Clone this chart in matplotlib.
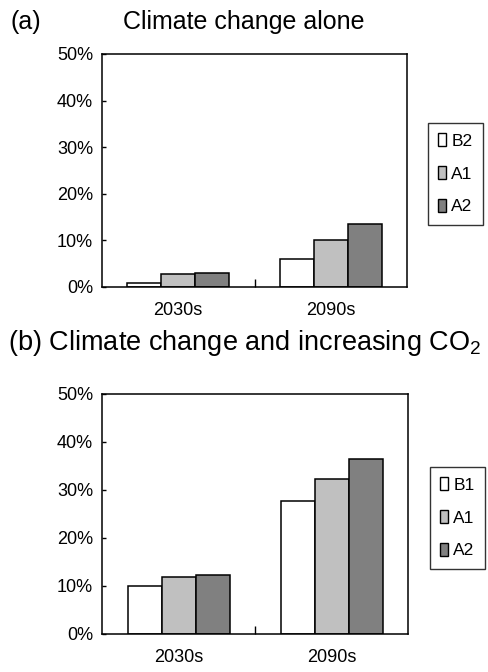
import matplotlib
matplotlib.use("Agg")
import matplotlib.pyplot as plt
from matplotlib.patches import Patch
from matplotlib.ticker import FixedLocator, PercentFormatter
import numpy as np

plt.rcParams['font.family'] = ['Liberation Sans', 'DejaVu Sans']
plt.rcParams['mathtext.fontset'] = 'custom'
plt.rcParams['mathtext.rm'] = 'Liberation Sans'

periods = ["2030s", "2090s"]

# Panel (a): climate change alone
scen_a = ["B2", "A1", "A2"]
vals_a = {"B2": [0.8, 6.1], "A1": [2.8, 10.0], "A2": [3.1, 13.5]}

# Panel (b): climate change and increasing CO2
scen_b = ["B1", "A1", "A2"]
vals_b = {"B1": [10.0, 27.7], "A1": [11.9, 32.3], "A2": [12.2, 36.5]}

fills = ["#ffffff", "#c0c0c0", "#808080"]

W, H = 488, 672
fig = plt.figure(figsize=(W / 100, H / 100), dpi=100)


def px_axes(l, t, r, b):
    return fig.add_axes([l / W, 1 - b / H, (r - l) / W, (b - t) / H])


def draw_panel(ax, scen, vals, leg_left, leg_top):
    x = np.arange(len(periods))
    w = 2 / 9
    for i, s in enumerate(scen):
        ax.bar(x + (i - 1) * w, vals[s], width=w, color=fills[i],
               edgecolor="black", linewidth=1.1, zorder=2)
    ax.set_xlim(-0.5, 1.5)
    ax.set_ylim(0, 50)
    ax.yaxis.set_major_locator(FixedLocator([0, 10, 20, 30, 40, 50]))
    ax.yaxis.set_major_formatter(PercentFormatter(decimals=0))
    ax.set_xticks(x)
    ax.set_xticklabels(periods)
    ax.xaxis.set_minor_locator(FixedLocator([0.5]))
    ax.tick_params(axis="x", which="major", length=0, pad=11, labelsize=13)
    ax.tick_params(axis="x", which="minor", direction="in", length=6,
                   width=1.0)
    ax.tick_params(axis="y", direction="in", length=3, width=1.0, pad=6.5,
                   labelsize=13)
    for sp in ax.spines.values():
        sp.set_linewidth(1.1)
    handles = [Patch(facecolor=fills[i], edgecolor="black", linewidth=1.0,
                     label=s) for i, s in enumerate(scen)]
    leg = fig.legend(handles=handles, loc="upper left",
                     bbox_to_anchor=(leg_left / W, 1 - leg_top / H),
                     fontsize=12.5, handlelength=0.45, handleheight=0.75,
                     handletextpad=0.3, labelspacing=1.0, borderpad=0.6,
                     borderaxespad=0, fancybox=False, frameon=True)
    leg.get_frame().set_edgecolor("black")
    leg.get_frame().set_linewidth(1.0)


ax_a = px_axes(102, 54, 407, 287)
draw_panel(ax_a, scen_a, vals_a, 428, 123)

ax_b = px_axes(102, 394, 408, 634)
draw_panel(ax_b, scen_b, vals_b, 430, 467)

fig.text(10 / W, 1 - 29 / H, "(a)", fontsize=18, ha="left", va="baseline")
fig.text(123 / W, 1 - 29 / H, "Climate change alone", fontsize=18,
         ha="left", va="baseline")
fig.text(8 / W, 1 - 350 / H, "(b) Climate change and increasing CO$_{2}$",
         fontsize=19.5, ha="left", va="baseline")

fig.savefig("out.png", dpi=100)
